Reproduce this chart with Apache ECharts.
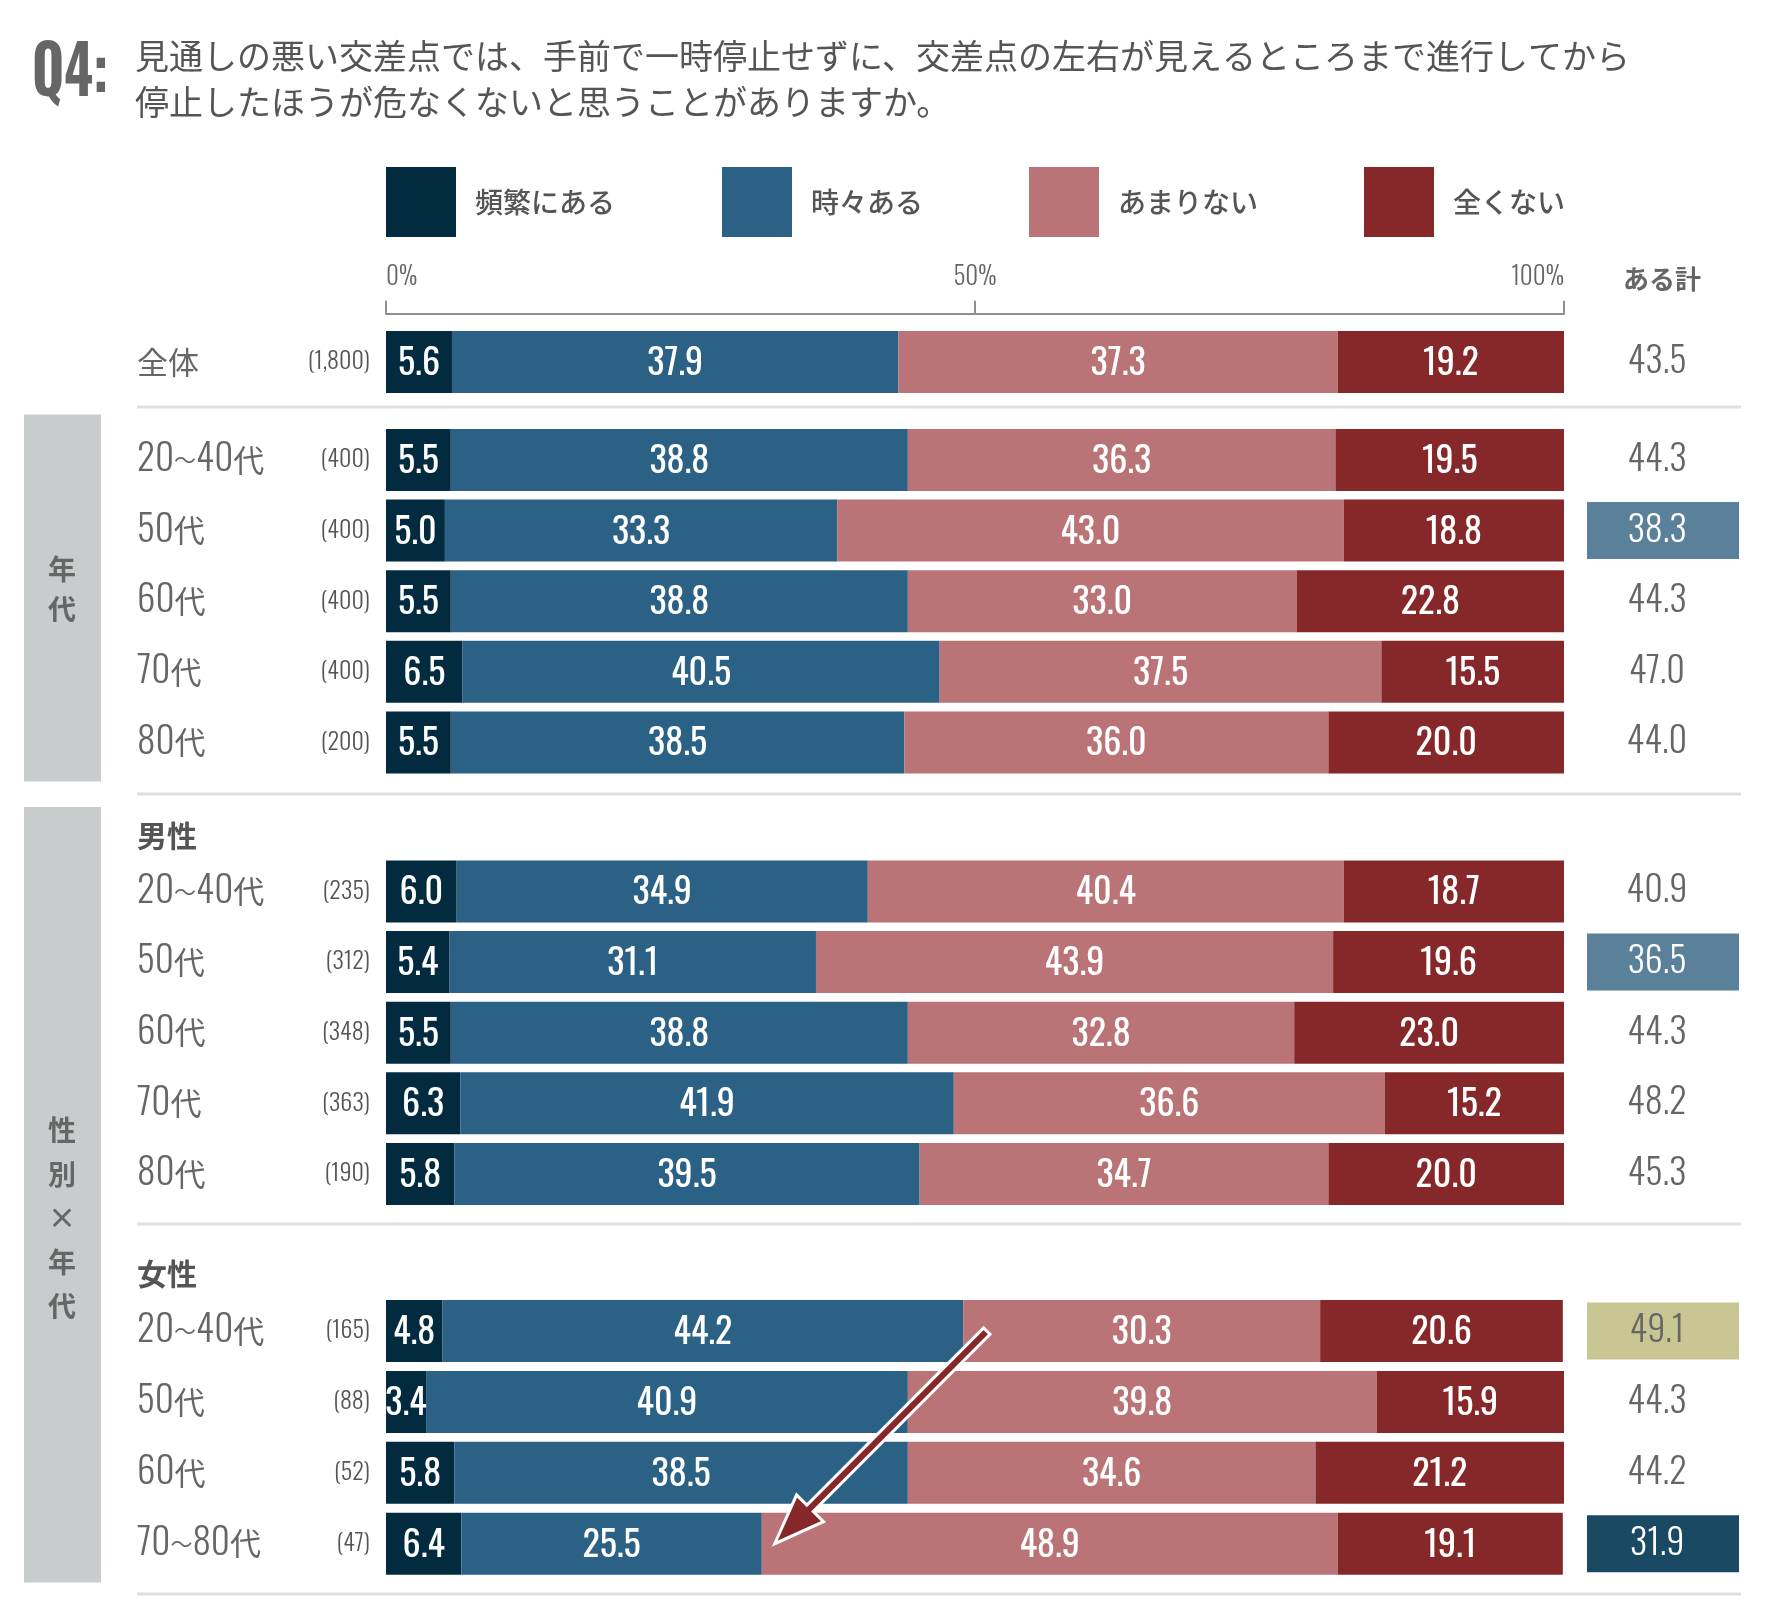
<!DOCTYPE html>
<html><head><meta charset="utf-8">
<script src="https://cdn.jsdelivr.net/npm/echarts@6/dist/echarts.min.js"></script>
<style>html,body{margin:0;padding:0;background:#fff}#c{width:1766px;height:1621px}</style>
</head><body><div id="c"></div>
<script>
// ---------------- data ----------------
const segNames = ['頻繁にある', '時々ある', 'あまりない', '全くない'];
const axisTicks = [0, 50, 100];
const totalHeader = 'ある計';

const allCats = ['全体'];
const allN = ['1,800'];
const allFreq = [5.6];
const allSome = [37.9];
const allRare = [37.3];
const allNever = [19.2];
const allAru = [43.5];
const allMark = [''];

const ageCats = ['20～40代', '50代', '60代', '70代', '80代'];
const ageN = ['400', '400', '400', '400', '200'];
const ageFreq = [5.5, 5.0, 5.5, 6.5, 5.5];
const ageSome = [38.8, 33.3, 38.8, 40.5, 38.5];
const ageRare = [36.3, 43.0, 33.0, 37.5, 36.0];
const ageNever = [19.5, 18.8, 22.8, 15.5, 20.0];
const ageAru = [44.3, 38.3, 44.3, 47.0, 44.0];
const ageMark = ['', 'low', '', '', ''];

const maleCats = ['20～40代', '50代', '60代', '70代', '80代'];
const maleN = ['235', '312', '348', '363', '190'];
const maleFreq = [6.0, 5.4, 5.5, 6.3, 5.8];
const maleSome = [34.9, 31.1, 38.8, 41.9, 39.5];
const maleRare = [40.4, 43.9, 32.8, 36.6, 34.7];
const maleNever = [18.7, 19.6, 23.0, 15.2, 20.0];
const maleAru = [40.9, 36.5, 44.3, 48.2, 45.3];
const maleMark = ['', 'low', '', '', ''];

const femaleCats = ['20～40代', '50代', '60代', '70～80代'];
const femaleN = ['165', '88', '52', '47'];
const femaleFreq = [4.8, 3.4, 5.8, 6.4];
const femaleSome = [44.2, 40.9, 38.5, 25.5];
const femaleRare = [30.3, 39.8, 34.6, 48.9];
const femaleNever = [20.6, 15.9, 21.2, 19.1];
const femaleAru = [49.1, 44.3, 44.2, 31.9];
const femaleMark = ['max', '', '', 'min'];

const groupTitles = ['', '', '男性', '女性'];
const sideLabels = ['年代', '性別×年代'];
// arrow annotation: from [value, category] to [value, category] in the female block
const arrowFrom = [51, '20～40代'];
const arrowTo = [33, '70～80代'];

// ---------------- styling / layout ----------------
const FN = "'Oswald','Roboto Condensed','DejaVu Sans Condensed',sans-serif";
const FJ = "'Noto Sans CJK JP','Noto Sans',sans-serif";
const segColors = ['#032B40', '#2A6184', '#BA7376', '#86282A'];
const GL = 386, GR = 202;
const grids = [
  { top: 326.7, height: 70.6 },
  { top: 424.7, height: 353 },
  { top: 856.2, height: 353 },
  { top: 1295.6, height: 283.5 }
];
const groups = [
  { cats: allCats, n: allN, segs: [allFreq, allSome, allRare, allNever], aru: allAru, mark: allMark },
  { cats: ageCats, n: ageN, segs: [ageFreq, ageSome, ageRare, ageNever], aru: ageAru, mark: ageMark },
  { cats: maleCats, n: maleN, segs: [maleFreq, maleSome, maleRare, maleNever], aru: maleAru, mark: maleMark },
  { cats: femaleCats, n: femaleN, segs: [femaleFreq, femaleSome, femaleRare, femaleNever], aru: femaleAru, mark: femaleMark }
];

function nameRich(v) {
  const parts = v.match(/\d+|～|[^\d～]+/g) || [v];
  return parts.map(s => /\d/.test(s) ? '{d|' + s + '}' : (s === '～' ? '{t|' + s + '}' : '{k|' + s + '}')).join('');
}
const boxBase = { fontFamily: FN, fontSize: 36, fontWeight: 300, width: 140, height: 57, lineHeight: 57, align: 'center', padding: [0, 12, 0, 0] };

const xAxes = [], yAxes = [], series = [], gridOpts = [];
groups.forEach((g, gi) => {
  gridOpts.push({ left: GL, right: GR, top: grids[gi].top, height: grids[gi].height, containLabel: false, outerBoundsMode: 'none' });
  xAxes.push({
    type: 'value', gridIndex: gi, min: 0, max: 100, interval: 50,
    show: gi === 0, position: 'top', offset: 13,
    axisLine: { show: true, lineStyle: { color: '#8f8f8f', width: 2 } },
    axisTick: { show: true, length: 13, lineStyle: { color: '#8f8f8f', width: 2 } },
    splitLine: { show: false },
    axisLabel: {
      show: true, margin: 24, formatter: '{value}%', color: '#666', fontFamily: FN, fontWeight: 300, fontSize: 25,
      alignMinLabel: 'left', alignMaxLabel: 'right',
      customValues: axisTicks
    }
  });
  // left: sample size
  yAxes.push({
    type: 'category', gridIndex: gi, data: g.cats, inverse: true, position: 'left',
    axisLine: { show: false }, axisTick: { show: false },
    axisLabel: { margin: 16, align: 'right', color: '#555', fontFamily: FN, fontWeight: 300, fontSize: 24,
      formatter: (v, i) => '(' + g.n[i] + ')' }
  });
  // left: category names
  yAxes.push({
    type: 'category', gridIndex: gi, data: g.cats, inverse: true, position: 'left',
    axisLine: { show: false }, axisTick: { show: false },
    axisLabel: { margin: GL - 137, align: 'left', formatter: v => nameRich(v),
      rich: {
        d: { fontFamily: FN, fontWeight: 300, fontSize: 37, color: '#666' },
        t: { fontFamily: FJ, fontSize: 22, color: '#666' },
        k: { fontFamily: FJ, fontSize: 31, color: '#666' }
      } }
  });
  // right: totals
  yAxes.push({
    type: 'category', gridIndex: gi, data: g.cats, inverse: true, position: 'right',
    axisLine: { show: false }, axisTick: { show: false },
    axisLabel: { margin: 99, align: 'center',
      formatter: (v, i) => '{' + (g.mark[i] || 'n') + '|' + g.aru[i].toFixed(1) + '}',
      rich: {
        n: Object.assign({}, boxBase, { color: '#666' }),
        low: Object.assign({}, boxBase, { color: '#fff', backgroundColor: '#5A8199' }),
        max: Object.assign({}, boxBase, { color: '#666', backgroundColor: '#C8C794' }),
        min: Object.assign({}, boxBase, { color: '#fff', backgroundColor: '#1A4A63' })
      } }
  });
  g.segs.forEach((arr, si) => {
    series.push({
      type: 'bar', name: segNames[si], stack: 'g' + gi,
      xAxisIndex: gi, yAxisIndex: gi * 3, data: arr, barWidth: 62,
      itemStyle: { color: segColors[si] },
      label: { show: true, position: 'inside', offset: [0, 2], color: '#fff', fontFamily: FN, fontWeight: 400, fontSize: 36,
        textBorderWidth: 0, formatter: p => p.value.toFixed(1) }
    });
  });
});

const legendX = [386, 722, 1029, 1364];
const legends = segNames.map((n, i) => ({
  data: [n], left: legendX[i], top: 167, itemWidth: 70, itemHeight: 70, icon: 'rect',
  padding: 0, selectedMode: false,
  textStyle: { fontFamily: FJ, fontSize: 28, fontWeight: 500, color: '#555', padding: [0, 0, 0, 14] }
}));

const sepY = [407, 794, 1224, 1594];
const graphic = [];
sepY.forEach(y => graphic.push({ type: 'line', shape: { x1: 137, y1: y, x2: 1741, y2: y }, style: { stroke: '#E0E0E0', lineWidth: 3 } }));
graphic.push({ type: 'rect', shape: { x: 24, y: 414.5, width: 77, height: 367 }, style: { fill: '#C9CCCD' } });
graphic.push({ type: 'rect', shape: { x: 24, y: 807, width: 77, height: 775.5 }, style: { fill: '#C9CCCD' } });
const side1 = sideLabels[0].split('');
side1.forEach((ch, i) => graphic.push({ type: 'text', x: 62, y: 569 + i * 40,
  style: { text: ch, fontFamily: FJ, fontSize: 28, fontWeight: 'bold', fill: '#666', align: 'center', verticalAlign: 'middle' } }));
const side2 = sideLabels[1].split('');
side2.forEach((ch, i) => graphic.push({ type: 'text', x: 62, y: 1130 + i * 44,
  style: { text: ch, fontFamily: FJ, fontSize: 28, fontWeight: 'bold', fill: '#666', align: 'center', verticalAlign: 'middle' } }));
const headerY = [0, 0, 836, 1274];
groupTitles.forEach((t, i) => { if (t) graphic.push({ type: 'text', x: 137, y: headerY[i],
  style: { text: t, fontFamily: FJ, fontSize: 30, fontWeight: 'bold', fill: '#555', verticalAlign: 'middle' } }); });
graphic.push({ type: 'text', x: 1662, y: 279,
  style: { text: totalHeader, fontFamily: FJ, fontSize: 26, fontWeight: 'bold', fill: '#666', align: 'center', verticalAlign: 'middle' } });
graphic.push({ type: 'text', x: 32, y: 42, scaleX: 0.82,
  style: { text: 'Q4:', fontFamily: FN, fontSize: 67, fontWeight: 'bold', fill: '#666', verticalAlign: 'top' } });

const chart = echarts.init(document.getElementById('c'), null, { renderer: 'canvas' });
chart.setOption({
  animation: false,
  backgroundColor: '#fff',
  title: {
    text: '見通しの悪い交差点では、手前で一時停止せずに、交差点の左右が見えるところまで進行してから\n停止したほうが危なくないと思うことがありますか。',
    left: 135, top: 33, padding: 0,
    textStyle: { fontFamily: FJ, fontSize: 34, fontWeight: 'normal', color: '#555', lineHeight: 46 }
  },
  legend: legends,
  grid: gridOpts,
  xAxis: xAxes,
  yAxis: yAxes,
  series: series,
  graphic: graphic
});

// arrow annotation placed via axis coordinates
const P0 = chart.convertToPixel({ xAxisIndex: 3, yAxisIndex: 9 }, arrowFrom);
const P1 = chart.convertToPixel({ xAxisIndex: 3, yAxisIndex: 9 }, arrowTo);
(function () {
  const dx = P1[0] - P0[0], dy = P1[1] - P0[1];
  const len = Math.sqrt(dx * dx + dy * dy);
  const ux = dx / len, uy = dy / len, nx = -uy, ny = ux;
  const w = 4.5, H = 19, L = 50;
  const bx = P1[0] - ux * L, by = P1[1] - uy * L;
  const pts = [
    [P0[0] + nx * w, P0[1] + ny * w], [bx + nx * w, by + ny * w], [bx + nx * H, by + ny * H],
    [P1[0], P1[1]], [bx - nx * H, by - ny * H], [bx - nx * w, by - ny * w], [P0[0] - nx * w, P0[1] - ny * w]
  ];
  chart.setOption({ graphic: graphic.concat([{ type: 'polygon', z: 100, shape: { points: pts },
    style: { fill: '#86282A', stroke: '#fff', lineWidth: 3, lineJoin: 'miter' } }]) });
})();
</script></body></html>
